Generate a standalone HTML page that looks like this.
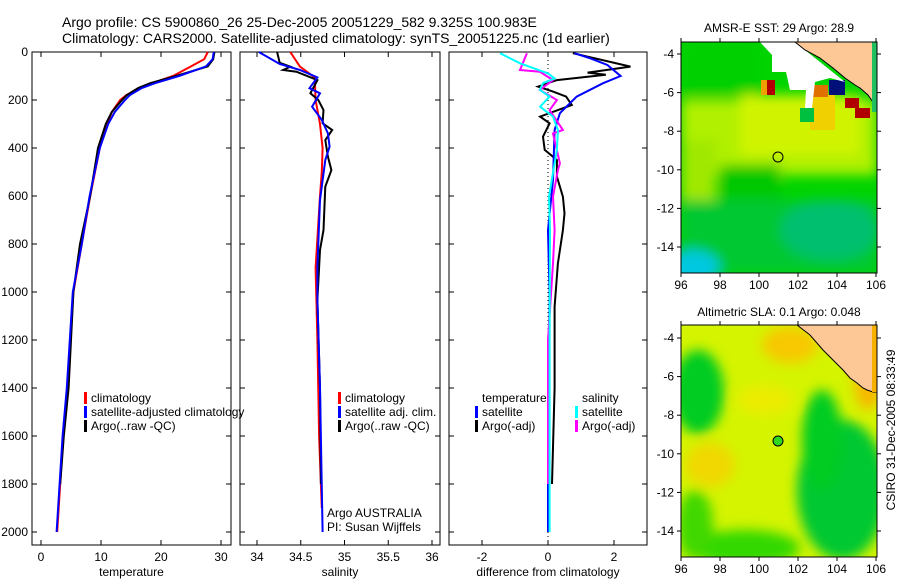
<!DOCTYPE html>
<html><head><meta charset="utf-8"><style>
body{margin:0;background:#fff;}
svg text{font-family:"Liberation Sans",sans-serif;font-size:12px;fill:#000;}
</style></head><body>
<svg id="fig" width="900" height="580" xmlns="http://www.w3.org/2000/svg">
<defs>
<filter id="blur" x="-20%" y="-20%" width="140%" height="140%"><feGaussianBlur stdDeviation="6"/></filter>
<clipPath id="c1"><rect x="681" y="42" width="196" height="231"/></clipPath>
<clipPath id="c2"><rect x="681" y="325" width="196" height="232"/></clipPath>
</defs>
<text x="62" y="27" style="font-size:14px">Argo profile: CS 5900860_26 25-Dec-2005 20051229_582 9.325S 100.983E</text>
<text x="62" y="43" style="font-size:14px">Climatology: CARS2000. Satellite-adjusted climatology: synTS_20051225.nc (1d earlier)</text>
<g id="panels"></g>
<g>
<text x="779" y="32" text-anchor="middle">AMSR-E SST: 29 Argo: 28.9</text>
<g clip-path="url(#c1)">
<rect x="681" y="42" width="196" height="231" fill="#00d400"/>
<g filter="url(#blur)">
<rect x="681" y="42" width="80" height="55" fill="#00d000"/>
<rect x="681" y="100" width="196" height="75" fill="#b0f000"/>
<rect x="740" y="95" width="120" height="60" fill="#d0f400"/>
<rect x="681" y="200" width="196" height="73" fill="#00c830"/>
<ellipse cx="692" cy="268" rx="28" ry="18" fill="#00c8e0"/>
<ellipse cx="830" cy="230" rx="50" ry="30" fill="#00c070"/>
<rect x="681" y="140" width="35" height="60" fill="#a0e800"/>
<rect x="720" y="165" width="60" height="35" fill="#00c800"/>
</g>
<rect x="810" y="95" width="25" height="35" fill="#f0d000"/>
<rect x="767" y="80" width="8" height="15" fill="#b00000"/>
<rect x="761" y="80" width="6" height="15" fill="#f0a000"/>
<rect x="810" y="85" width="18" height="12" fill="#e07000"/>
<rect x="829" y="80" width="16" height="15" fill="#00107a"/>
<rect x="845" y="98" width="14" height="10" fill="#b00000"/>
<rect x="855" y="108" width="15" height="10" fill="#b00000"/>
<rect x="800" y="108" width="14" height="14" fill="#00c040"/>
<polygon fill="#fff" points="760,42 795,42 845,82 830,78 815,82 812,108 805,108 806,90 790,90 786,72 772,72 772,55"/>
<polygon fill="#fdc896" stroke="#000" stroke-width="1" points="795,42 805,50 820,58 833,68 845,78 855,85 860,88 868,95 875,105 877,110 877,42"/>
<rect x="872" y="42" width="5" height="70" fill="#20c060"/>
<circle cx="778" cy="157" r="5" fill="none" stroke="#000"/>
</g>
<rect x="681" y="42" width="196" height="231" fill="none" stroke="#000"/>
<g id="map1axes"></g>
</g>
<g>
<text x="779" y="316" text-anchor="middle">Altimetric SLA: 0.1 Argo: 0.048</text>
<g clip-path="url(#c2)">
<rect x="681" y="325" width="196" height="232" fill="#d4f400"/>
<g filter="url(#blur)">
<ellipse cx="698" cy="392" rx="26" ry="42" fill="#00cc20"/>
<ellipse cx="842" cy="490" rx="45" ry="70" fill="#00c830"/>
<ellipse cx="822" cy="440" rx="20" ry="50" fill="#00cc20"/>
<ellipse cx="745" cy="548" rx="55" ry="18" fill="#30d800"/>
<ellipse cx="695" cy="525" rx="18" ry="35" fill="#40d800"/>
<ellipse cx="710" cy="465" rx="25" ry="22" fill="#f0d800"/>
<ellipse cx="790" cy="345" rx="28" ry="18" fill="#f8c800"/>
<ellipse cx="868" cy="380" rx="14" ry="30" fill="#f8b800"/>
<ellipse cx="765" cy="400" rx="28" ry="15" fill="#ecec00"/>
</g>
<polygon fill="#fdc896" stroke="#000" stroke-width="1" points="797,325 810,335 823,350 835,362 843,370 850,378 857,383 863,388 867,390 873,392 877,392 877,325"/>
<rect x="872" y="325" width="5" height="67" fill="#f8b000"/>
<circle cx="778" cy="441" r="5" fill="#30d820" stroke="#000"/>
</g>
<rect x="681" y="325" width="196" height="232" fill="none" stroke="#000"/>
<g id="map2axes"></g>
</g>
<text transform="translate(895,430) rotate(-90)" text-anchor="middle">CSIRO 31-Dec-2005 08:33:49</text>
</svg>
<script>
// ---- data ----
const depthTicks=[0,200,400,600,800,1000,1200,1400,1600,1800,2000];
const tempTicks=[0,10,20,30];
const salTicks=[34,34.5,35,35.5,36];
const diffTicks=[-2,0,2];
const lonTicks=[96,98,100,102,104,106];
const latTicks=[-4,-6,-8,-10,-12,-14];
const tClimDepth=[0,30,60,100,130,150,180,200,250,300,400,600,800,1000,1400,1600,1800,2000];
const tClimVal=[27.8,27.2,25,22,18.5,16.3,14.2,13.2,11.8,11,9.8,8.2,6.8,5.4,4.4,3.7,3.2,2.7];
const tSatDepth=[0,30,60,100,130,150,180,200,250,300,400,600,800,1000,1400,1600,1800,2000];
const tSatVal=[28.8,28.6,27.5,23,19,16.8,14.8,14,12.3,11.2,9.8,8.1,6.8,5.3,4.3,3.6,3.1,2.6];
const tArgoDepth=[0,30,60,100,130,150,180,200,250,300,400,600,800,1000,1400,1600,1800];
const tArgoVal=[28.9,28.7,27.8,22.5,18.2,16.2,14.3,13.5,11.8,10.8,9.5,8.2,6.5,5.4,4.6,3.8,3.2];
const sClimDepth=[0,61,106,200,300,400,500,600,900,1200,1600,1900];
const sClimVal=[34.38,34.49,34.66,34.67,34.72,34.75,34.74,34.72,34.67,34.69,34.71,34.74];
const sSatDepth=[0,50,75,106,151,172,228,283,339,394,450,617,894,1033,1400,2000];
const sSatVal=[34.02,34.26,34.49,34.69,34.6,34.72,34.63,34.74,34.81,34.83,34.78,34.72,34.69,34.69,34.72,34.75];
const sArgoDepth=[0,45,61,75,82,117,172,200,242,297,325,367,436,492,561,742,825,1033,1400,1800];
const sArgoVal=[34.23,34.26,34.38,34.3,34.45,34.69,34.61,34.7,34.76,34.75,34.86,34.78,34.81,34.85,34.78,34.76,34.72,34.69,34.72,34.73];
const dTArgoDepth=[5,61,86,95,117,144,165,186,221,269,297,353,408,450,519,603,672,742,881,1061,1400,1800];
const dTArgoVal=[0.75,2.5,1.2,1.75,0.27,-0.3,0.15,0.55,0.72,-0.24,0.05,-0.15,-0.1,0.27,0.27,0.45,0.5,0.45,0.3,0.2,0.2,0.12];
const dTSatDepth=[5,25,54,100,130,186,255,325,533,742,1019,1500,2000];
const dTSatVal=[0.8,1.25,1.8,2.2,1.67,0.87,0.36,0.2,0.15,0,0.05,0,0];
const dSSatDepth=[5,47,89,110,130,158,186,228,269,325,408,464,603,742,1200,2000];
const dSSatVal=[-1.45,-0.85,0,0.2,-0.15,-0.25,0.05,-0.24,0.15,0.3,0.27,0.2,0.03,0.06,0.05,0.05];
const dSArgoDepth=[5,75,82,117,158,200,242,325,339,464,492,603,742,881,1200,1800];
const dSArgoVal=[-0.64,-0.85,-0.25,0.15,-0.25,0.27,0.05,0.45,0.15,0.36,0.3,0.15,0.2,0.15,0.0,0.0];

const NS='http://www.w3.org/2000/svg';
function mk(tag,attrs,parent,txt){const e=document.createElementNS(NS,tag);for(const k in attrs)e.setAttribute(k,attrs[k]);if(txt!==undefined)e.textContent=txt;parent.appendChild(e);return e;}
const yD=d=>52+d*0.24;
const panels=[
 {name:'temperature',x0:32,x1:231,xs:v=>41+6*v,ticks:tempTicks,label:'temperature',lbl:v=>String(v)},
 {name:'salinity',x0:240,x1:440,xs:v=>257+(v-34)*87.5,ticks:salTicks,label:'salinity',lbl:v=>String(v)},
 {name:'difference',x0:449,x1:647,xs:v=>548+v*33,ticks:diffTicks,label:'difference from climatology',lbl:v=>String(v)}
];
const root=document.getElementById('panels');
panels.forEach((p,i)=>{
 const g=mk('g',{},root);
 
 
 const r=mk('rect',{x:p.x0,y:52,width:p.x1-p.x0,height:493,fill:'none',stroke:'#000'},g);
 
 
 p.ticks.forEach(t=>{const x=p.xs(t);
  mk('line',{x1:x,x2:x,y1:545,y2:540,stroke:'#000'},g);mk('line',{x1:x,x2:x,y1:52,y2:57,stroke:'#000'},g);
  const tl=mk('text',{x:x,y:561,'text-anchor':'middle'},g,p.lbl(t));
  
  });
 const at=mk('text',{x:(p.x0+p.x1)/2,y:576,'text-anchor':'middle'},g,p.label);
 
 
 depthTicks.forEach(d=>{const y=yD(d);
  mk('line',{x1:p.x0,x2:p.x0+5,y1:y,y2:y,stroke:'#000'},g);mk('line',{x1:p.x1,x2:p.x1-5,y1:y,y2:y,stroke:'#000'},g);
  if(i==0){const tl=mk('text',{x:28,y:y+4,'text-anchor':'end'},g,String(d));
   
   }});
 p.g=g;
});
function line(p,ds,vs,color,name,w){
 const pts=ds.map((d,k)=>p.xs(vs[k]).toFixed(1)+','+yD(d).toFixed(1)).join(' ');
 const e=mk('polyline',{points:pts,fill:'none',stroke:color,'stroke-width':w||2},p.g);
 
 
}
const [P1,P2,P3]=panels;
line(P1,tClimDepth,tClimVal,'#f00','temp-climatology-line');
line(P1,tArgoDepth,tArgoVal,'#000','temp-argo-line');
line(P1,tSatDepth,tSatVal,'#00f','temp-satellite-line');
line(P2,sClimDepth,sClimVal,'#f00','sal-climatology-line');
line(P2,sArgoDepth,sArgoVal,'#000','sal-argo-line');
line(P2,sSatDepth,sSatVal,'#00f','sal-satellite-line');
mk('line',{x1:548,x2:548,y1:52,y2:545,stroke:'#000','stroke-dasharray':'1,3'},P3.g);
line(P3,dTArgoDepth,dTArgoVal,'#000','diff-temp-argo-line');
line(P3,dTSatDepth,dTSatVal,'#00f','diff-temp-satellite-line');
line(P3,dSArgoDepth,dSArgoVal,'#f0f','diff-sal-argo-line');
line(P3,dSSatDepth,dSSatVal,'#0ff','diff-sal-satellite-line');
function leg(g,x,y,color,txt,name){
 if(color)mk('rect',{x:x-7,y:y-10,width:3,height:12,fill:color},g);
 const t=mk('text',{x:x,y:y},g,txt);
 
 
}
leg(P1.g,91,402,'#f00','climatology','legend-climatology');
leg(P1.g,91,416,'#00f','satellite-adjusted climatology','legend-satellite');
leg(P1.g,91,430,'#000','Argo(..raw -QC)','legend-argo');
leg(P2.g,345,402,'#f00','climatology','legend-sal-climatology');
leg(P2.g,345,416,'#00f','satellite adj. clim.','legend-sal-satellite');
leg(P2.g,345,430,'#000','Argo(..raw -QC)','legend-sal-argo');
leg(P2.g,327,517,null,'Argo AUSTRALIA','float-owner-text');
leg(P2.g,327,531,null,'PI: Susan Wijffels','pi-text');
leg(P3.g,482,402,null,'temperature','legend-temp-heading');
leg(P3.g,482,416,'#00f','satellite','legend-temp-satellite');
leg(P3.g,482,430,'#000','Argo(-adj)','legend-temp-argo');
leg(P3.g,582,402,null,'salinity','legend-sal-heading');
leg(P3.g,582,416,'#0ff','satellite','legend-diff-sal-satellite');
leg(P3.g,582,430,'#f0f','Argo(-adj)','legend-diff-sal-argo');
function mapAxes(id,y0,y1,latY){
 const g=document.getElementById(id);
 lonTicks.forEach(l=>{const x=681+(l-96)*19.5;
  mk('line',{x1:x,x2:x,y1:y1,y2:y1+4,stroke:'#000'},g);mk('line',{x1:x,x2:x,y1:y0,y2:y0-4,stroke:'#000'},g);
  const t=mk('text',{x:x,y:y1+16,'text-anchor':'middle'},g,String(l));
  
  });
 latTicks.forEach(l=>{const y=latY+(-4-l)*19.3;
  mk('line',{x1:677,x2:681,y1:y,y2:y,stroke:'#000'},g);mk('line',{x1:877,x2:881,y1:y,y2:y,stroke:'#000'},g);
  const t=mk('text',{x:674,y:y+4,'text-anchor':'end'},g,String(l));
  
  });
}
mapAxes('map1axes',42,273,54);
mapAxes('map2axes',325,557,338);
</script>
</body></html>
